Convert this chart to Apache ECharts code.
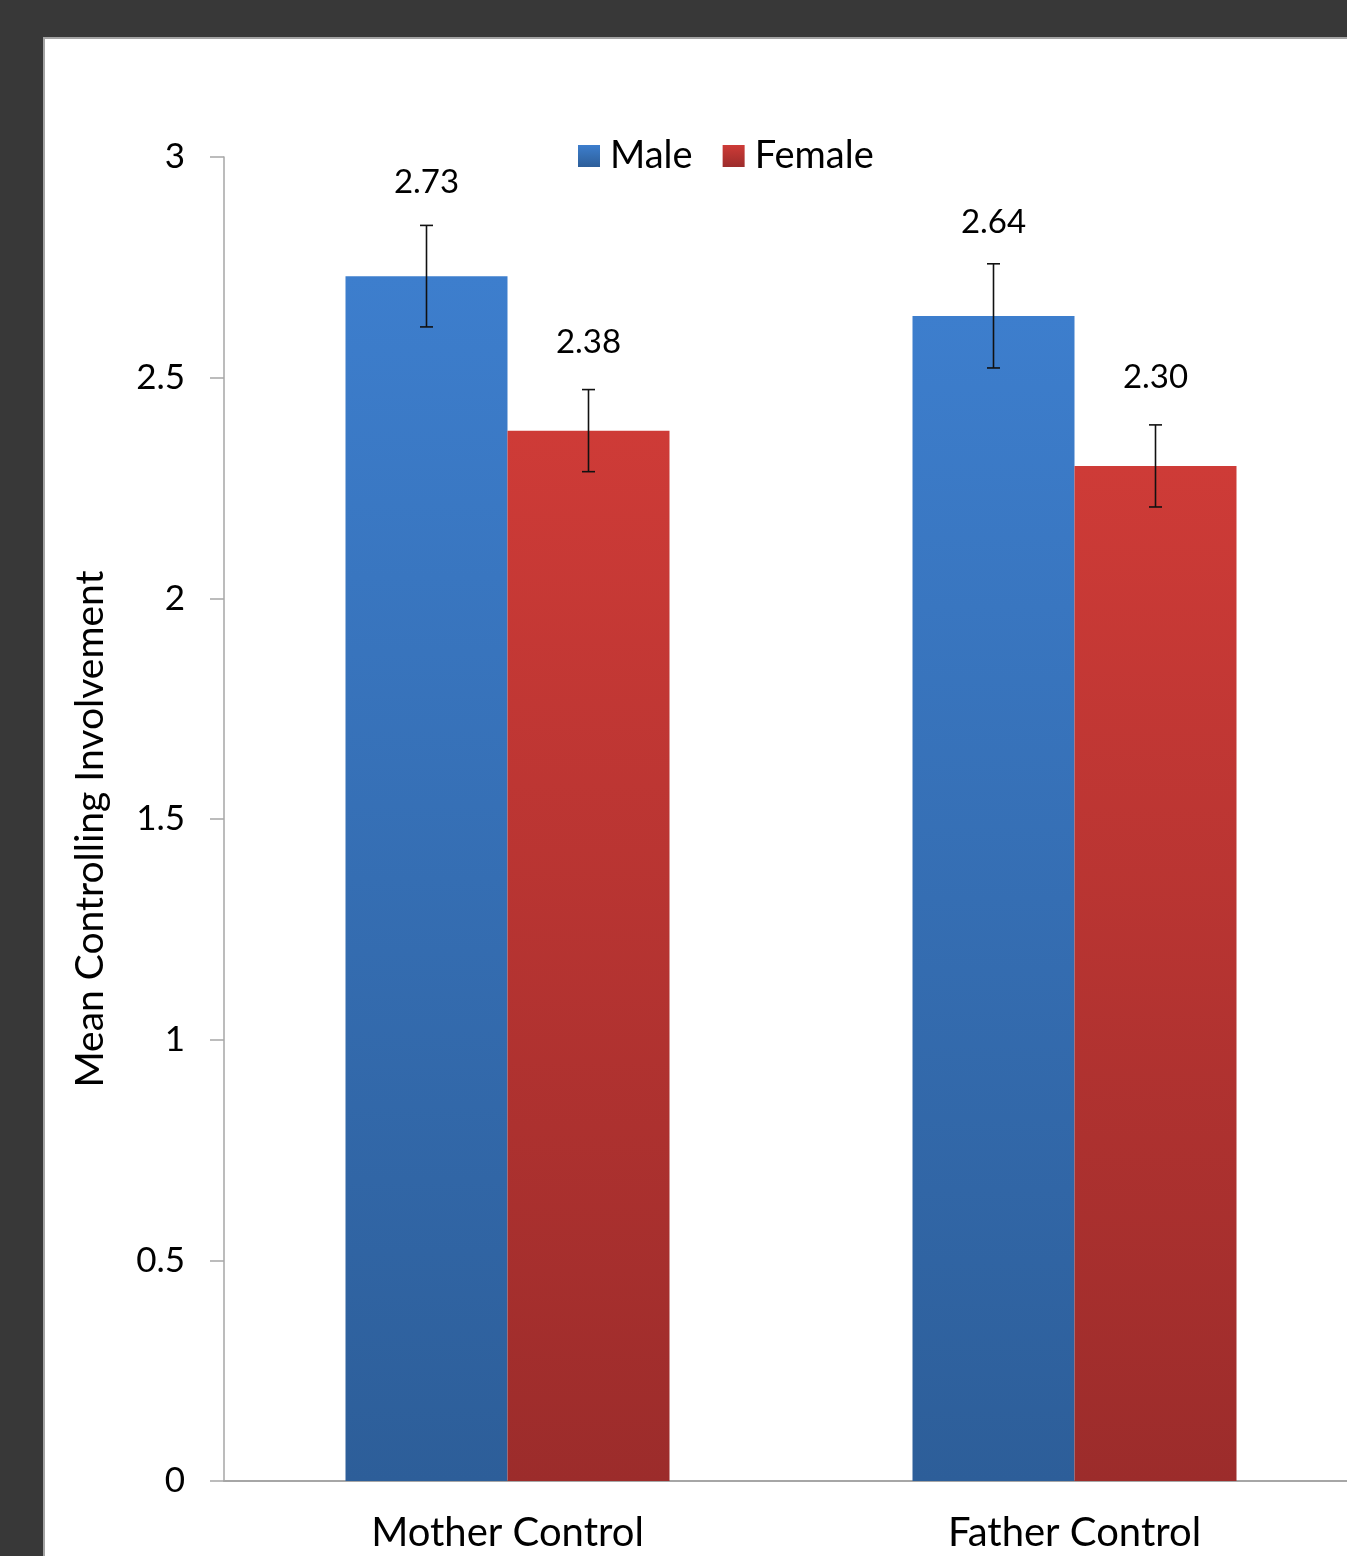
<!DOCTYPE html>
<html>
<head>
<meta charset="utf-8">
<script src="https://cdn.jsdelivr.net/npm/echarts@6/dist/echarts.min.js"></script>
<style>
  html, body { margin: 0; padding: 0; width: 1347px; height: 1556px; overflow: hidden; background: #383838; }
  #panel { position: absolute; left: 43px; top: 37px; width: 1320px; height: 1530px; background: #fff; border-left: 2px solid #a4a4a4; border-top: 2px solid #a4a4a4; }
  #chart { position: absolute; left: 0; top: 0; width: 1400px; height: 1556px; }
</style>
</head>
<body>
<div id="panel"></div>
<div id="chart"></div>
<script>
const categories = ['Mother Control', 'Father Control'];
const maleValues = [2.73, 2.64];
const femaleValues = [2.38, 2.30];
const maleErrors = [0.115, 0.118];
const femaleErrors = [0.093, 0.093];
const yTicks = [0, 0.5, 1, 1.5, 2, 2.5, 3];

const BAR_W = 162;
const FONT = 'Lato, "Open Sans", sans-serif';

function grad(top, bottom) {
  return new echarts.graphic.LinearGradient(0, 0, 0, 1, [
    { offset: 0, color: top }, { offset: 1, color: bottom }
  ]);
}

function errorSeries(name, values, errors, dir) {
  return {
    type: 'custom',
    name: name + ' error',
    silent: true,
    z: 10,
    data: values.map((v, i) => [i, v, errors[i]]),
    renderItem: function (params, api) {
      const i = api.value(0), v = api.value(1), e = api.value(2);
      const hi = api.coord([i, v + e]);
      const lo = api.coord([i, v - e]);
      const x = hi[0] + dir * BAR_W / 2;
      const cap = 6.5;
      const st = { stroke: '#111', lineWidth: 1.6 };
      return {
        type: 'group',
        children: [
          { type: 'line', shape: { x1: x, y1: hi[1], x2: x, y2: lo[1] }, style: st },
          { type: 'line', shape: { x1: x - cap, y1: hi[1], x2: x + cap, y2: hi[1] }, style: st },
          { type: 'line', shape: { x1: x - cap, y1: lo[1], x2: x + cap, y2: lo[1] }, style: st }
        ]
      };
    }
  };
}

const labelCfg = (dist) => ({
  show: true, position: 'top', distance: dist, fontSize: 33, color: '#000',
  fontFamily: FONT, formatter: p => p.value.toFixed(2)
});

const chart = echarts.init(document.getElementById('chart'));
chart.setOption({
  animation: false,
  backgroundColor: 'transparent',
  textStyle: { fontFamily: FONT },
  grid: { left: 224, top: 157, bottom: 75, right: 42 },
  legend: {
    data: ['Male', 'Female'],
    left: 578, top: 137, padding: 0,
    icon: 'rect', itemWidth: 22, itemHeight: 22, itemGap: 30,
    textStyle: { fontSize: 38, color: '#000', fontFamily: FONT, padding: [0, 0, 0, 5] }
  },
  xAxis: {
    type: 'category',
    data: categories,
    axisLine: { lineStyle: { color: '#a6a6a6', width: 2 } },
    axisTick: { show: false },
    axisLabel: { fontSize: 40, color: '#000', margin: 32, fontFamily: FONT }
  },
  yAxis: {
    type: 'value',
    min: 0, max: 3, interval: 0.5,
    name: 'Mean Controlling Involvement',
    nameLocation: 'middle',
    nameGap: 114,
    nameTextStyle: { fontSize: 39, color: '#000', fontFamily: FONT, padding: [0, 20, 0, 0] },
    axisLine: { show: true, lineStyle: { color: '#a6a6a6', width: 1.5 } },
    axisTick: { show: true, length: 14, lineStyle: { color: '#a6a6a6', width: 1.5 } },
    splitLine: { show: false },
    axisLabel: {
      fontSize: 35, color: '#000', margin: 39, fontFamily: FONT,
      formatter: v => yTicks.includes(v) ? String(v) : ''
    }
  },
  series: [
    {
      name: 'Male', type: 'bar', data: maleValues,
      barWidth: BAR_W, barGap: '0%',
      itemStyle: { color: grad('#3d7ecd', '#2d5e99') },
      label: labelCfg(77)
    },
    {
      name: 'Female', type: 'bar', data: femaleValues,
      barWidth: BAR_W, barGap: '0%',
      itemStyle: { color: grad('#ce3b37', '#9c2c2b') },
      label: labelCfg(72)
    },
    errorSeries('Male', maleValues, maleErrors, -1),
    errorSeries('Female', femaleValues, femaleErrors, 1)
  ]
});
</script>
</body>
</html>
